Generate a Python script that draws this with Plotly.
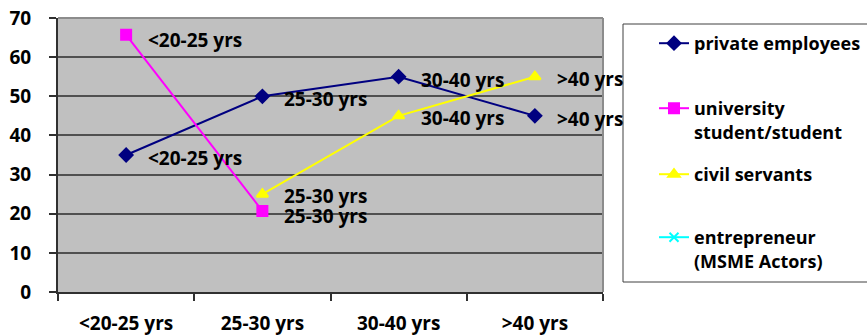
import plotly.graph_objects as go

# Age groups on the category axis
age_groups = ["<20-25 yrs", "25-30 yrs", "30-40 yrs", ">40 yrs"]

# Percentages per occupation group
private_employees = [35, 50, 55, 45]
university_students = [65.7, 20.7, None, None]
civil_servants = [None, 25, 45, 55]
entrepreneurs = [None, None, None, None]

y_ticks = [0, 10, 20, 30, 40, 50, 60, 70]

# name, values, colour, marker, marker size, legend id, label vertical shift
series = [
    ("private employees", private_employees, "#000080", "diamond", 10, "legend", -3),
    ("university<br>student/student", university_students, "#FF00FF", "square", 10, "legend2", -5),
    ("civil servants", civil_servants, "#FFFF00", "triangle-up", 10, "legend3", -2),
    ("entrepreneur<br>(MSME Actors)", entrepreneurs, "#00FFFF", "x-thin-open", 9, "legend4", -3),
]

FONT = dict(family="'Open Sans', Lato, sans-serif", size=19, color="#000000", weight="bold")
LEGEND_FONT = dict(FONT, size=18)

fig = go.Figure()
for name, values, color, symbol, msize, leg, _ in series:
    fig.add_trace(go.Scatter(
        x=age_groups, y=values, name=name, mode="lines+markers",
        line=dict(color=color, width=2),
        marker=dict(symbol=symbol, size=msize, color=color,
                    line=dict(color=color, width=2)),
        connectgaps=False, legend=leg,
    ))

# Data labels: the age group name, right of each point
annotations = []
for name, values, color, symbol, msize, leg, yshift in series:
    for cat, val in zip(age_groups, values):
        if val is None:
            continue
        annotations.append(dict(
            x=cat, y=val, xref="x", yref="y", text=cat, showarrow=False,
            xanchor="left", yanchor="middle", xshift=20, yshift=yshift,
            font=FONT,
        ))

W, H = 867, 336
L, R, T, B = 58, 264, 18, 44
pw, ph = W - L - R, H - T - B


def px_to_paper_x(px):
    return (px - L) / pw


def px_to_paper_y(py):
    return (H - B - py) / ph


legend_common = dict(
    bgcolor="rgba(0,0,0,0)", borderwidth=0, font=LEGEND_FONT, valign="top",
    xanchor="left", yanchor="top", itemclick=False, itemdoubleclick=False,
)
leg_x = px_to_paper_x(654)
legend_tops = {"legend": 25, "legend2": 90, "legend3": 156, "legend4": 219}

fig.update_layout(
    width=W, height=H,
    margin=dict(l=L, r=R, t=T, b=B, pad=0, autoexpand=False),
    paper_bgcolor="#FFFFFF",
    plot_bgcolor="#C0C0C0",
    font=FONT,
    showlegend=True,
    annotations=annotations,
    legend=dict(x=leg_x, y=px_to_paper_y(legend_tops["legend"]), **legend_common),
    legend2=dict(x=leg_x, y=px_to_paper_y(legend_tops["legend2"]), **legend_common),
    legend3=dict(x=leg_x, y=px_to_paper_y(legend_tops["legend3"]), **legend_common),
    legend4=dict(x=leg_x, y=px_to_paper_y(legend_tops["legend4"]), **legend_common),
    shapes=[
        # top and right border of the plot area
        dict(type="line", xref="paper", yref="paper", x0=0, x1=1, y0=1, y1=1,
             line=dict(color="#8C8C8C", width=2)),
        dict(type="line", xref="paper", yref="paper", x0=1, x1=1, y0=0, y1=1,
             line=dict(color="#8C8C8C", width=2)),
        # legend frame
        dict(type="rect", xref="paper", yref="paper",
             x0=px_to_paper_x(623), x1=px_to_paper_x(880),
             y0=px_to_paper_y(282), y1=px_to_paper_y(24),
             line=dict(color="#404040", width=1), fillcolor="rgba(0,0,0,0)"),
    ],
    xaxis=dict(
        type="category", range=[-0.5, 3.5], showgrid=False,
        showline=True, linecolor="#303030", linewidth=2,
        ticks="outside", tickson="boundaries", ticklen=7, tickcolor="#303030",
        tickwidth=1.5, ticklabelstandoff=13, tickfont=FONT,
        zeroline=False, fixedrange=True, automargin=False,
    ),
    yaxis=dict(
        range=[0, 70], tickvals=y_ticks, ticktext=[str(v) for v in y_ticks],
        showgrid=True, gridcolor="#505050", gridwidth=1.5,
        showline=True, linecolor="#303030", linewidth=2,
        ticks="outside", ticklen=7, tickcolor="#303030", tickwidth=1.5,
        ticklabelstandoff=14, tickfont=FONT, zeroline=False, fixedrange=True,
        automargin=False,
    ),
)

fig.write_html("out.html")
